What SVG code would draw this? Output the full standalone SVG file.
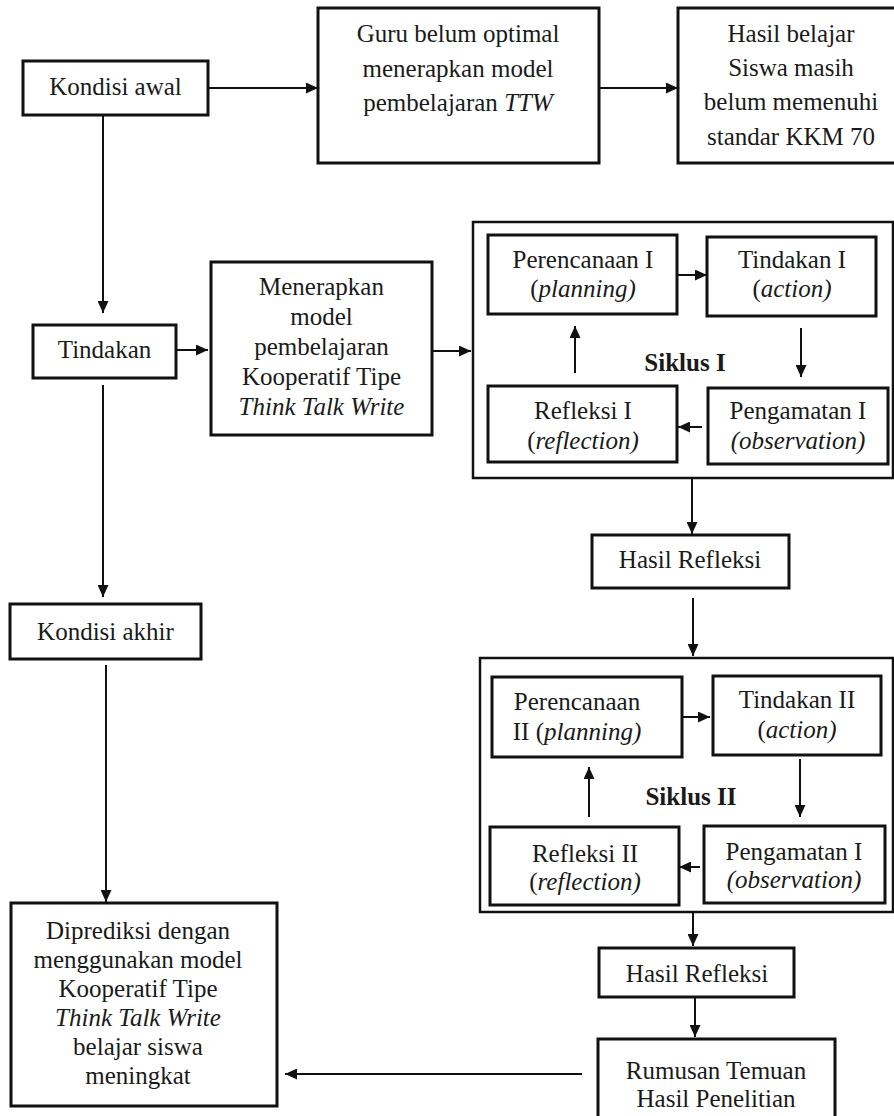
<svg xmlns="http://www.w3.org/2000/svg" width="894" height="1116" viewBox="0 0 894 1116">
<defs>
<style>
.box{fill:#fff;stroke:#111;stroke-width:3}
.outer{fill:#fff;stroke:#111;stroke-width:2.5}
.t{font-family:"Liberation Serif","Times New Roman",serif;font-size:25px;fill:#1a1a1a;text-anchor:middle}
.b{font-weight:bold}
.i{font-style:italic}
.c{stroke:#111;stroke-width:2;fill:none;marker-end:url(#ah)}
</style>
<marker id="ah" markerUnits="userSpaceOnUse" markerWidth="12" markerHeight="11" refX="12" refY="5.5" orient="auto">
<path d="M0,0 L12,5.5 L0,11 z" fill="#111"/>
</marker>
</defs>
<rect width="894" height="1116" fill="#fff"/>

<g id="siklus1">
<rect class="outer" x="473" y="222" width="420" height="256"/>
<text class="t b" x="685" y="371">Siklus I</text>
</g>
<g id="siklus2">
<rect class="outer" x="480" y="658" width="413" height="254"/>
<text class="t b" x="691" y="805">Siklus II</text>
</g>

<g id="kondisi-awal">
<rect class="box" x="23" y="61" width="185" height="54"/>
<text class="t" x="115.5" y="95">Kondisi awal</text>
</g>
<g id="guru">
<rect class="box" x="318" y="8" width="281" height="155"/>
<text class="t" x="458" y="42">Guru belum optimal</text>
<text class="t" x="458" y="77">menerapkan model</text>
<text class="t" x="458" y="111">pembelajaran <tspan class="i">TTW</tspan></text>
</g>
<g id="hasil-belajar">
<rect class="box" x="678" y="8" width="220" height="155"/>
<text class="t" x="791" y="42">Hasil belajar</text>
<text class="t" x="791" y="76">Siswa masih</text>
<text class="t" x="791" y="110">belum memenuhi</text>
<text class="t" x="791" y="145">standar KKM 70</text>
</g>
<g id="tindakan">
<rect class="box" x="33" y="325" width="143" height="53"/>
<text class="t" x="104.5" y="358">Tindakan</text>
</g>
<g id="menerapkan">
<rect class="box" x="211" y="262" width="221" height="173"/>
<text class="t" x="321.5" y="295">Menerapkan</text>
<text class="t" x="321.5" y="325">model</text>
<text class="t" x="321.5" y="355">pembelajaran</text>
<text class="t" x="321.5" y="385">Kooperatif Tipe</text>
<text class="t i" x="321.5" y="415">Think Talk Write</text>
</g>
<g id="perencanaan1">
<rect class="box" x="488" y="235" width="189" height="79"/>
<text class="t" x="583" y="268">Perencanaan I</text>
<text class="t" x="583" y="297">(<tspan class="i">planning)</tspan></text>
</g>
<g id="tindakan1">
<rect class="box" x="707" y="237" width="169" height="79"/>
<text class="t" x="792" y="268">Tindakan I</text>
<text class="t" x="792" y="297">(<tspan class="i">action)</tspan></text>
</g>
<g id="refleksi1">
<rect class="box" x="488" y="386" width="189" height="76"/>
<text class="t" x="583" y="419">Refleksi I</text>
<text class="t" x="583" y="449">(<tspan class="i">reflection)</tspan></text>
</g>
<g id="pengamatan1">
<rect class="box" x="708" y="388" width="180" height="76"/>
<text class="t" x="798" y="419">Pengamatan I</text>
<text class="t i" x="798" y="449">(observation)</text>
</g>
<g id="hasil-refleksi1">
<rect class="box" x="592" y="535" width="197" height="53"/>
<text class="t" x="690" y="568">Hasil Refleksi</text>
</g>
<g id="perencanaan2">
<rect class="box" x="492" y="677" width="190" height="80"/>
<text class="t" x="577" y="710">Perencanaan</text>
<text class="t" x="577" y="740">II (<tspan class="i">planning)</tspan></text>
</g>
<g id="tindakan2">
<rect class="box" x="713" y="676" width="168" height="79"/>
<text class="t" x="797" y="708">Tindakan II</text>
<text class="t" x="797" y="738">(<tspan class="i">action)</tspan></text>
</g>
<g id="refleksi2">
<rect class="box" x="490" y="827" width="189" height="78"/>
<text class="t" x="585" y="862">Refleksi II</text>
<text class="t" x="585" y="890">(<tspan class="i">reflection)</tspan></text>
</g>
<g id="pengamatan2">
<rect class="box" x="704" y="826" width="181" height="77"/>
<text class="t" x="794" y="860">Pengamatan I</text>
<text class="t i" x="794" y="888">(observation)</text>
</g>
<g id="hasil-refleksi2">
<rect class="box" x="599" y="948" width="195" height="49"/>
<text class="t" x="697" y="982">Hasil Refleksi</text>
</g>
<g id="rumusan">
<rect class="box" x="598" y="1039" width="237" height="90"/>
<text class="t" x="716" y="1079">Rumusan Temuan</text>
<text class="t" x="716" y="1107">Hasil Penelitian</text>
</g>
<g id="kondisi-akhir">
<rect class="box" x="10" y="604" width="191" height="55"/>
<text class="t" x="105.5" y="640">Kondisi akhir</text>
</g>
<g id="diprediksi">
<rect class="box" x="11" y="903" width="266" height="203"/>
<text class="t" x="138" y="939">Diprediksi dengan</text>
<text class="t" x="138" y="968">menggunakan model</text>
<text class="t" x="138" y="997">Kooperatif Tipe</text>
<text class="t i" x="138" y="1026">Think Talk Write</text>
<text class="t" x="138" y="1055">belajar siswa</text>
<text class="t" x="138" y="1084">meningkat</text>
</g>

<g id="connectors">
<line class="c" x1="208" y1="88" x2="318" y2="88"/>
<line class="c" x1="599" y1="88" x2="678" y2="88"/>
<line class="c" x1="103" y1="115" x2="103" y2="313"/>
<line class="c" x1="176" y1="350" x2="208" y2="350"/>
<line class="c" x1="432" y1="351" x2="471" y2="351"/>
<line class="c" x1="103" y1="385" x2="103" y2="597"/>
<line class="c" x1="106" y1="665" x2="106" y2="902"/>
<line class="c" x1="677" y1="275" x2="707" y2="275"/>
<line class="c" x1="801" y1="328" x2="801" y2="377"/>
<line class="c" x1="702" y1="427" x2="678" y2="427"/>
<line class="c" x1="575" y1="373" x2="575" y2="326"/>
<line class="c" x1="692" y1="478" x2="692" y2="534"/>
<line class="c" x1="693" y1="598" x2="693" y2="656"/>
<line class="c" x1="682" y1="717" x2="710" y2="717"/>
<line class="c" x1="800" y1="759" x2="800" y2="817"/>
<line class="c" x1="700" y1="867" x2="679" y2="867"/>
<line class="c" x1="589" y1="817" x2="589" y2="767"/>
<line class="c" x1="693" y1="913" x2="693" y2="946"/>
<line class="c" x1="695" y1="997" x2="695" y2="1037"/>
<line class="c" x1="582" y1="1074" x2="285" y2="1074"/>
</g>
</svg>
